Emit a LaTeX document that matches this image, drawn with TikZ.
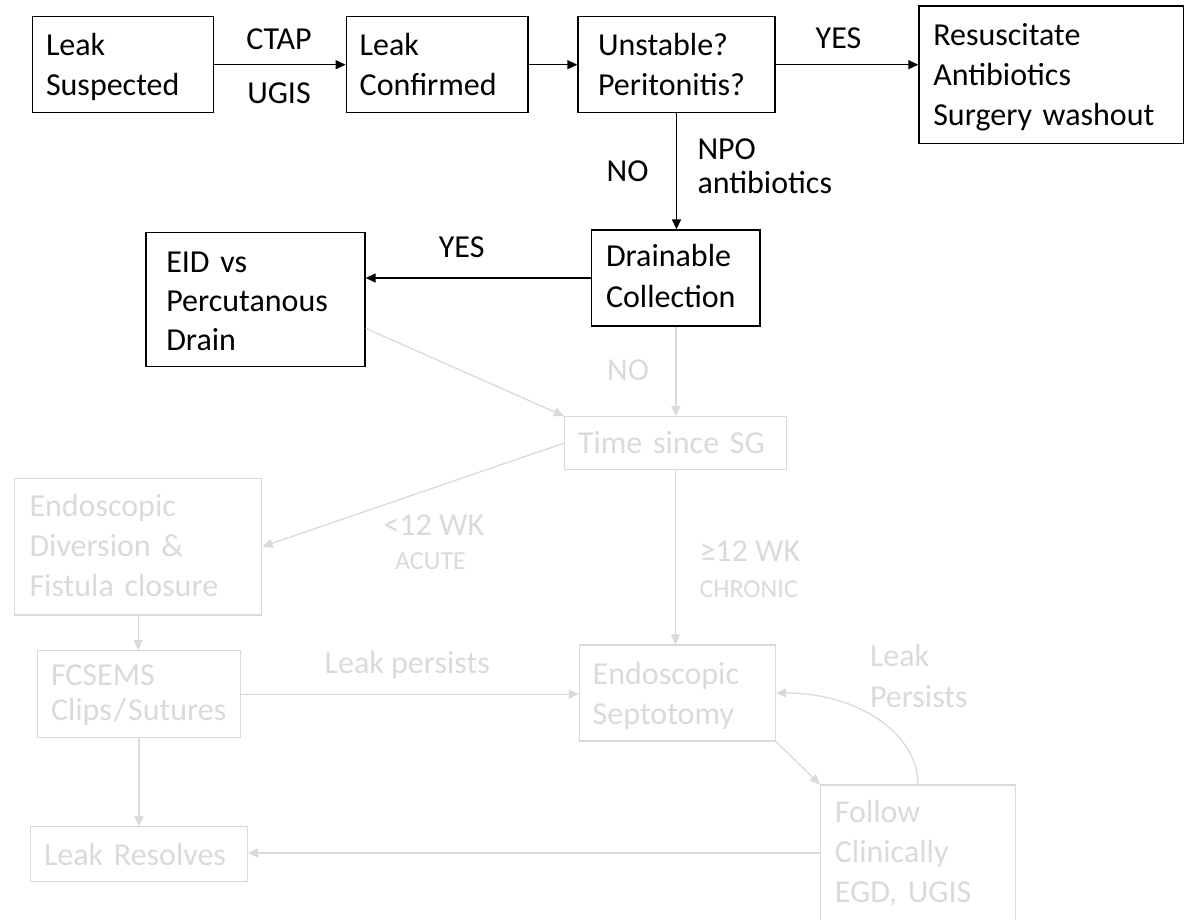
\documentclass[tikz,border=0pt]{standalone}
\usepackage{fontspec}
\setmainfont{Carlito}
\usetikzlibrary{arrows.meta,calc}
\definecolor{lgray}{RGB}{218,218,218}
\newcommand\bxt[3]{\rule{0pt}{#1pt}#3\rule[-#2pt]{0pt}{#2pt}}
\begin{document}
\begin{tikzpicture}[x=1pt,y=-1pt,
  bigfont/.style={font=\fontsize{32}{40}\selectfont},
  smallfont/.style={font=\fontsize{26}{30}\selectfont},
  blk/.style={draw=black, line width=1.3pt, inner ysep=0pt, align=left, bigfont, text=black},
  gry/.style={draw=lgray, line width=1.3pt, inner ysep=0pt, align=left, bigfont, text=lgray},
  arr/.style={draw=black, line width=1.3pt, -{Triangle[length=10pt,width=9pt]}},
  garr/.style={draw=lgray, line width=1.3pt, -{Triangle[length=10pt,width=9pt]}},
  blab/.style={bigfont, text=black, inner sep=0pt},
  glab/.style={bigfont, text=lgray, inner sep=0pt},
  gsmall/.style={smallfont, text=lgray, inner sep=0pt}]
\useasboundingbox (0,0) rectangle (1184,919);

% black boxes
\node[blk, minimum width=181pt, minimum height=96pt, text width=154pt, inner xsep=13.5pt] (A) at (123,64.7)
  {\bxt{38.3}{17.7}{Leak\\Suspected}};
\node[blk, minimum width=181.8pt, minimum height=96pt, text width=155pt, inner xsep=13.4pt] (B) at (437.2,64.7)
  {\bxt{38.3}{17.7}{Leak\\Confirmed}};
\node[blk, minimum width=197pt, minimum height=96pt, text width=157pt, inner xsep=20pt] (C) at (676.5,64.7)
  {\bxt{38.3}{17.7}{Unstable?\\Peritonitis?}};
\node[blk, minimum width=264.3pt, minimum height=137.3pt, text width=235.7pt, inner xsep=14.3pt] (D) at (1051.15,74.65)
  {\bxt{39}{18.3}{Resuscitate\\Antibiotics\\Surgery~washout}};
\node[blk, font=\fontsize{32}{40.6}\selectfont, minimum width=168.3pt, minimum height=96pt, text width=139.7pt, inner xsep=14.3pt] (E) at (675.85,278)
  {\bxt{36.7}{18.7}{Drainable\\Collection}};
\node[blk, font=\fontsize{32}{39}\selectfont, minimum width=219pt, minimum height=134pt, text width=178.4pt, inner xsep=20.3pt] (F) at (255.5,299.7)
  {\bxt{39.3}{16.7}{EID~vs\\Percutanous\\Drain}};

% gray boxes
\node[gry, minimum width=221.8pt, minimum height=52.8pt, text width=195pt, inner xsep=13.4pt] (G) at (675.5,443.1)
  {\bxt{36.6}{16.2}{Time~since~SG}};
\node[gry, minimum width=247.3pt, minimum height=136.7pt, text width=217.3pt, inner xsep=15pt] (H) at (138.15,546.65)
  {\bxt{38.4}{18.3}{Endoscopic\\Diversion~\&\\Fistula~closure}};
\node[gry, font=\fontsize{32}{35}\selectfont, minimum width=202.8pt, minimum height=87pt, text width=175.8pt, inner xsep=13.5pt] (I) at (138.9,694.2)
  {\bxt{34.3}{17.7}{FCSEMS\\Clips\hspace{2pt}/\hspace{2pt}Sutures}};
\node[gry, minimum width=196pt, minimum height=96pt, text width=169.6pt, inner xsep=13.2pt] (J) at (677.5,693)
  {\bxt{39}{17}{Endoscopic\\Septotomy}};
\node[gry, minimum width=195.1pt, minimum height=136pt, text width=166.3pt, inner xsep=14.4pt] (K) at (918.05,853)
  {\bxt{37.3}{18.7}{Follow\\Clinically\\EGD,~UGIS}};
\node[gry, minimum width=216.6pt, minimum height=55pt, text width=189.8pt, inner xsep=13.4pt] (L) at (138.9,854.2)
  {\bxt{38.3}{16.7}{Leak~Resolves}};

% black labels
\node[blab, anchor=base] (ctap) at (279,49.3) {CTAP};
\node[blab, anchor=base] (ugis) at (279,103) {UGIS};
\node[blab, anchor=base] (yes1) at (838.5,48.3) {YES};
\node[blab, anchor=base] (no1) at (627.5,181.7) {NO};
\node[blab, anchor=base west] (npo) at (697.3,159.3) {NPO};
\node[blab, anchor=base west] (abx) at (697.3,193.3) {antibiotics};
\node[blab, anchor=base] (yes2) at (461.7,257.3) {YES};

% gray labels
\node[glab, anchor=base] (no2) at (628,380) {NO};
\node[glab, anchor=base west] (lt12) at (383.3,535) {<12 WK};
\node[gsmall, anchor=base] (acute) at (430.5,569.3) {ACUTE};
\node[glab, anchor=base west] (ge12) at (699.3,561.7) {≥12 WK};
\node[gsmall, anchor=base west] (chronic) at (699.3,597.3) {CHRONIC};
\node[glab, anchor=base west] (lpers) at (324.5,673) {Leak persists};
\node[glab, anchor=base west] (leak2) at (869.8,666.7) {Leak};
\node[glab, anchor=base west] (pers2) at (869.8,707) {Persists};

% black connectors
\draw[arr] (A.east) -- (B.west);
\draw[arr] (B.east) -- (C.west);
\draw[arr] (C.east) -- (C.east -| D.west);
\draw[arr] (C.south) -- (C.south |- E.north);
\draw[arr] (E.west) -- (E.west -| F.east);

% gray connectors
\draw[garr] (E.south) -- (E.south |- G.north);
\draw[garr] ([yshift=-28.6pt]F.east) -- (G.north west);
\draw[garr] (G.west) -- (H.east);
\draw[garr] (G.south) -- (G.south |- J.north);
\draw[garr] (H.south) -- (H.south |- I.north);
\draw[garr] (I.east) -- (I.east -| J.west);
\draw[garr] (I.south) -- (I.south |- L.north);
\draw[garr] (J.south east) -- (K.north west);
\draw[garr] (K.north) .. controls (918,735) and (860,693) .. (J.east);
\draw[garr] (K.west) -- (K.west -| L.east);
\end{tikzpicture}
\end{document}
